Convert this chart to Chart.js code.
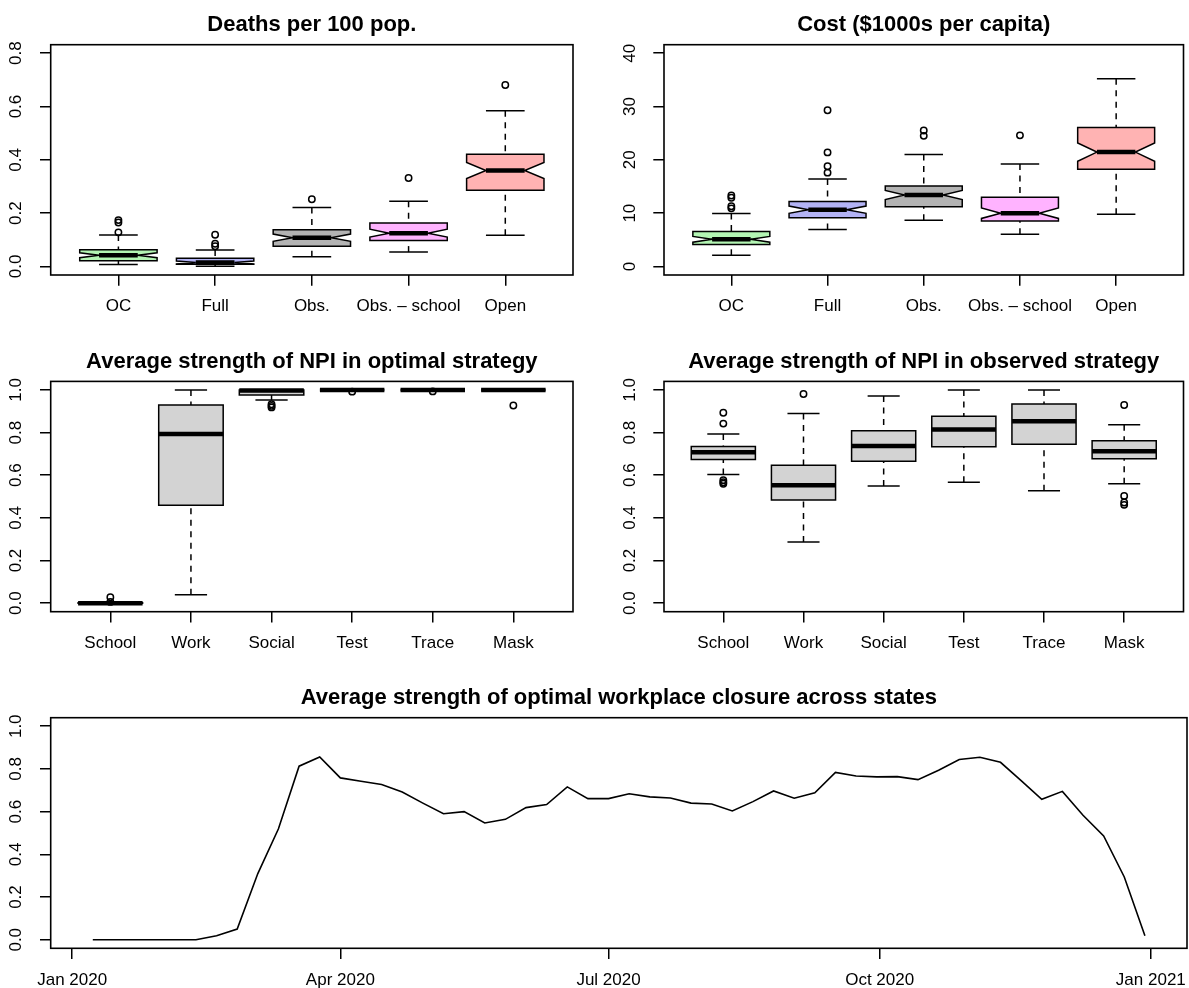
<!doctype html>
<html lang="en">
<head>
<meta charset="UTF-8">
<title>NPI strategies</title>
<script src="https://cdn.jsdelivr.net/npm/chart.js@4.4.0/dist/chart.umd.min.js"></script>
<style>
  body { margin:0; background:#fff; width:1189px; height:988px; overflow:hidden; position:relative; }
  canvas { position:absolute; }
</style>
</head>
<body>
<canvas id="deaths"></canvas>
<canvas id="cost"></canvas>
<canvas id="optimal"></canvas>
<canvas id="observed"></canvas>
<canvas id="work"></canvas>

<script>
// ---------- data ----------
const policyCats = ['OC', 'Full', 'Obs.', 'Obs. \u2013 school', 'Open'];
const npiCats = ['School', 'Work', 'Social', 'Test', 'Trace', 'Mask'];
const nStates = 51;

// deaths per 100 pop.
const deathsQ1  = [0.021, 0.008, 0.076, 0.097, 0.286];
const deathsMed = [0.042, 0.015, 0.108, 0.125, 0.360];
const deathsQ3  = [0.063, 0.031, 0.138, 0.163, 0.421];
const deathsLo  = [0.007, 0.001, 0.036, 0.054, 0.117];
const deathsHi  = [0.118, 0.062, 0.221, 0.245, 0.584];
const deathsOut = [[0.128, 0.165, 0.174], [0.076, 0.085, 0.119], [0.252], [0.332], [0.681]];

// cost ($1000s per capita)
const costQ1  = [4.10, 9.15, 11.20, 8.55, 18.25];
const costMed = [5.10, 10.65, 13.40, 10.00, 21.45];
const costQ3  = [6.55, 12.20, 15.10, 13.00, 26.05];
const costLo  = [2.10, 6.95, 8.65, 6.05, 9.80];
const costHi  = [9.95, 16.40, 21.00, 19.20, 35.20];
const costOut = [[10.9, 11.3, 12.9, 13.3], [17.6, 18.8, 21.4, 29.3], [24.5, 25.5], [24.6], []];

// average NPI strength, optimal strategy
const optQ1  = [0.000, 0.459, 0.976, 1, 1, 1];
const optMed = [0.000, 0.793, 0.997, 1, 1, 1];
const optQ3  = [0.002, 0.929, 1.000, 1, 1, 1];
const optLo  = [0.000, 0.039, 0.953, 1, 1, 1];
const optHi  = [0.004, 1.000, 1.000, 1, 1, 1];
const optOut = [[0.006, 0.028], [], [0.918, 0.925, 0.933], [0.992], [0.993], [0.927]];

// average NPI strength, observed strategy
const obsQ1  = [0.674, 0.484, 0.665, 0.733, 0.745, 0.677];
const obsMed = [0.708, 0.553, 0.737, 0.815, 0.853, 0.713];
const obsQ3  = [0.735, 0.647, 0.809, 0.876, 0.934, 0.762];
const obsLo  = [0.603, 0.287, 0.550, 0.567, 0.527, 0.560];
const obsHi  = [0.793, 0.890, 0.972, 1.000, 1.000, 0.837];
const obsOut = [[0.893, 0.842, 0.577, 0.567, 0.560], [0.981], [], [], [], [0.929, 0.503, 0.472, 0.461]];

// weekly average strength of optimal workplace closure
const workDates = [
  '2020-01-08','2020-01-15','2020-01-22','2020-01-29','2020-02-05','2020-02-12','2020-02-19','2020-02-26',
  '2020-03-04','2020-03-11','2020-03-18','2020-03-25','2020-04-01','2020-04-08','2020-04-15','2020-04-22',
  '2020-04-29','2020-05-06','2020-05-13','2020-05-20','2020-05-27','2020-06-03','2020-06-10','2020-06-17',
  '2020-06-24','2020-07-01','2020-07-08','2020-07-15','2020-07-22','2020-07-29','2020-08-05','2020-08-12',
  '2020-08-19','2020-08-26','2020-09-02','2020-09-09','2020-09-16','2020-09-23','2020-09-30','2020-10-07',
  '2020-10-14','2020-10-21','2020-10-28','2020-11-04','2020-11-11','2020-11-18','2020-11-25','2020-12-02',
  '2020-12-09','2020-12-16','2020-12-23','2020-12-30'];
const workStrength = [
  0, 0, 0, 0, 0, 0, 0.019, 0.05,
  0.31, 0.52, 0.813, 0.856, 0.758, 0.742, 0.727, 0.692,
  0.64, 0.59, 0.60, 0.547, 0.564, 0.619, 0.633, 0.716,
  0.661, 0.661, 0.684, 0.669, 0.664, 0.64, 0.636, 0.603,
  0.647, 0.697, 0.663, 0.688, 0.784, 0.767, 0.763, 0.764,
  0.75, 0.794, 0.844, 0.855, 0.831, 0.745, 0.658, 0.695,
  0.583, 0.486, 0.294, 0.019];

// axis ticks
const deathsTicks = [0, 0.2, 0.4, 0.6, 0.8];
const deathsTickLabels = ['0.0', '0.2', '0.4', '0.6', '0.8'];
const costTicks = [0, 10, 20, 30, 40];
const costTickLabels = ['0', '10', '20', '30', '40'];
const shareTicks = [0, 0.2, 0.4, 0.6, 0.8, 1.0];
const shareTickLabels = ['0.0', '0.2', '0.4', '0.6', '0.8', '1.0'];
const dateTicks = ['2020-01-01', '2020-04-01', '2020-07-01', '2020-10-01', '2021-01-01'];
const dateTickLabels = ['Jan 2020', 'Apr 2020', 'Jul 2020', 'Oct 2020', 'Jan 2021'];

// ---------- styling ----------
const FONT = "'Liberation Sans', Arial, Helvetica, sans-serif";
const policyFills = ['#b3f5b3', '#b3b3f5', '#b3b3b3', '#ffb3ff', '#ffb3b3'];
const npiFill = '#d3d3d3';

function tickGrid() {
  return { display: true, drawOnChartArea: false, drawTicks: true, tickLength: 10.7, color: '#000', lineWidth: 1.5 };
}

// frame, tick labels and (optionally) boxes, all placed through the chart scales
function panelPlugin(p) {
  const line = (ctx, a, b, c, d) => { ctx.beginPath(); ctx.moveTo(a, b); ctx.lineTo(c, d); ctx.stroke(); };
  return {
    id: 'panel_' + p.id,
    beforeDatasetsDraw(chart) {
      if (!p.box) return;
      const ctx = chart.ctx, xs = chart.scales.x, ys = chart.scales.y;
      const px = v => xs.getPixelForValue(v), py = v => ys.getPixelForValue(v);
      const b = p.box, w = 0.4;
      ctx.save();
      ctx.strokeStyle = '#000';
      b.cats.forEach((c, k) => {
        const i = k + 1;
        ctx.lineWidth = 1.5;
        // whiskers (dashed) and staples
        ctx.setLineDash([6, 5.5]);
        line(ctx, px(i), py(b.lo[k]), px(i), py(b.q1[k]));
        line(ctx, px(i), py(b.hi[k]), px(i), py(b.q3[k]));
        ctx.setLineDash([]);
        line(ctx, px(i - w / 2), py(b.lo[k]), px(i + w / 2), py(b.lo[k]));
        line(ctx, px(i - w / 2), py(b.hi[k]), px(i + w / 2), py(b.hi[k]));
        // box
        let pts;
        if (b.notch) {
          const d = 1.58 * (b.q3[k] - b.q1[k]) / Math.sqrt(nStates);
          const nl = b.med[k] - d, nh = b.med[k] + d;
          pts = [[-1, b.q1[k]], [1, b.q1[k]], [1, nl], [0.5, b.med[k]], [1, nh], [1, b.q3[k]],
                 [-1, b.q3[k]], [-1, nh], [-0.5, b.med[k]], [-1, nl]];
        } else {
          pts = [[-1, b.q1[k]], [1, b.q1[k]], [1, b.q3[k]], [-1, b.q3[k]]];
        }
        ctx.beginPath();
        pts.forEach(([f, v], j) => {
          const X = px(i + f * w), Y = py(v);
          if (j === 0) ctx.moveTo(X, Y); else ctx.lineTo(X, Y);
        });
        ctx.closePath();
        ctx.fillStyle = Array.isArray(b.fill) ? b.fill[k] : b.fill;
        ctx.fill();
        ctx.stroke();
        // median
        ctx.lineWidth = 4.5;
        const mf = b.notch ? 0.5 : 1;
        line(ctx, px(i - w * mf), py(b.med[k]), px(i + w * mf), py(b.med[k]));
      });
      ctx.restore();
    },
    afterDraw(chart) {
      const ctx = chart.ctx, a = chart.chartArea, xs = chart.scales.x, ys = chart.scales.y;
      ctx.save();
      ctx.strokeStyle = '#000';
      ctx.lineWidth = 1.6;
      ctx.strokeRect(a.left, a.top, a.right - a.left, a.bottom - a.top);
      ctx.fillStyle = '#000';
      ctx.font = '17px ' + FONT;
      ctx.textAlign = 'center';
      ctx.textBaseline = 'middle';
      p.xTicks.forEach((v, i) => ctx.fillText(p.xLabels[i], xs.getPixelForValue(v), a.bottom + 31.7));
      p.yTicks.forEach((v, i) => {
        ctx.save();
        ctx.translate(a.left - 34, ys.getPixelForValue(v));
        ctx.rotate(-Math.PI / 2);
        ctx.fillText(p.yLabels[i], 0, 0);
        ctx.restore();
      });
      ctx.restore();
    }
  };
}

function makePanel(p) {
  const [x0, y0, x1, y1] = p.canvas;
  const [L, T, R, B] = p.area;
  const el = document.getElementById(p.id);
  el.width = x1 - x0; el.height = y1 - y0;
  el.style.left = x0 + 'px'; el.style.top = y0 + 'px';
  el.style.width = (x1 - x0) + 'px'; el.style.height = (y1 - y0) + 'px';
  const titleLine = 22 * 1.2;
  return new Chart(el, {
    type: p.type,
    data: { datasets: p.datasets },
    options: {
      responsive: false,
      devicePixelRatio: 1,
      animation: false,
      events: [],
      layout: { padding: { left: 0, top: 0, bottom: 0, right: x1 - R } },
      plugins: {
        legend: { display: false },
        tooltip: { enabled: false },
        title: {
          display: true, text: p.title, color: '#000', fullSize: false,
          font: { family: FONT, size: 22, weight: 'bold', lineHeight: 1.2 },
          padding: { top: (T - y0) - titleLine - 6.5, bottom: 6.5 }
        }
      },
      scales: {
        x: {
          type: 'linear', min: p.xMin, max: p.xMax, offset: false,
          border: { display: false }, grid: tickGrid(), ticks: { display: false },
          afterBuildTicks: s => { s.ticks = p.xTicks.map(v => ({ value: v })); },
          afterFit: s => { s.height = y1 - B; }
        },
        y: {
          type: 'linear', min: p.yMin, max: p.yMax,
          border: { display: false }, grid: tickGrid(), ticks: { display: false },
          afterBuildTicks: s => { s.ticks = p.yTicks.map(v => ({ value: v })); },
          afterFit: s => { s.width = L - x0; }
        }
      }
    },
    plugins: [panelPlugin(p)]
  });
}

function outlierSet(out) {
  return [{
    data: out.flatMap((vals, k) => vals.map(v => ({ x: k + 1, y: v }))),
    pointStyle: 'circle', pointRadius: 3.2, pointBorderWidth: 1.5,
    pointBorderColor: '#000', pointBackgroundColor: 'rgba(0,0,0,0)', clip: false
  }];
}

function boxPanel(id, title, canvas, area, cats, stats, fill, notch, yTicks, yLabels) {
  const pad = 0.04 * (yTicks[yTicks.length - 1] - yTicks[0]);
  const xpad = 0.04 * cats.length;
  return makePanel({
    id, title, canvas, area, type: 'scatter',
    datasets: outlierSet(stats.out),
    box: { cats, q1: stats.q1, med: stats.med, q3: stats.q3, lo: stats.lo, hi: stats.hi, fill, notch },
    xMin: 0.5 - xpad, xMax: cats.length + 0.5 + xpad,
    yMin: yTicks[0] - pad, yMax: yTicks[yTicks.length - 1] + pad,
    xTicks: cats.map((c, k) => k + 1), xLabels: cats,
    yTicks, yLabels
  });
}

boxPanel('deaths', 'Deaths per 100 pop.', [0, 0, 594, 330], [50.7, 44.7, 573, 275],
  policyCats, { q1: deathsQ1, med: deathsMed, q3: deathsQ3, lo: deathsLo, hi: deathsHi, out: deathsOut },
  policyFills, true, deathsTicks, deathsTickLabels);

boxPanel('cost', 'Cost ($1000s per capita)', [594, 0, 1189, 330], [664, 44.7, 1187, 275],
  policyCats, { q1: costQ1, med: costMed, q3: costQ3, lo: costLo, hi: costHi, out: costOut },
  policyFills, true, costTicks, costTickLabels);

boxPanel('optimal', 'Average strength of NPI in optimal strategy', [0, 330, 594, 667], [50.7, 381.4, 573, 611.7],
  npiCats, { q1: optQ1, med: optMed, q3: optQ3, lo: optLo, hi: optHi, out: optOut },
  npiFill, false, shareTicks, shareTickLabels);

boxPanel('observed', 'Average strength of NPI in observed strategy', [594, 330, 1189, 667], [664, 381.4, 1187, 611.7],
  npiCats, { q1: obsQ1, med: obsMed, q3: obsQ3, lo: obsLo, hi: obsHi, out: obsOut },
  npiFill, false, shareTicks, shareTickLabels);

const t0 = Date.parse(workDates[0]), t1 = Date.parse(workDates[workDates.length - 1]);
const tpad = 0.04 * (t1 - t0);
makePanel({
  id: 'work', title: 'Average strength of optimal workplace closure across states',
  canvas: [0, 667, 1189, 988], area: [50.7, 717.7, 1187, 948.3], type: 'line',
  datasets: [{
    data: workDates.map((d, i) => ({ x: Date.parse(d), y: workStrength[i] })),
    borderColor: '#000', borderWidth: 1.6, pointRadius: 0, tension: 0, fill: false
  }],
  xMin: t0 - tpad, xMax: t1 + tpad, yMin: -0.04, yMax: 1.04,
  xTicks: dateTicks.map(d => Date.parse(d)), xLabels: dateTickLabels,
  yTicks: shareTicks, yLabels: shareTickLabels
});
</script>
</body>
</html>
